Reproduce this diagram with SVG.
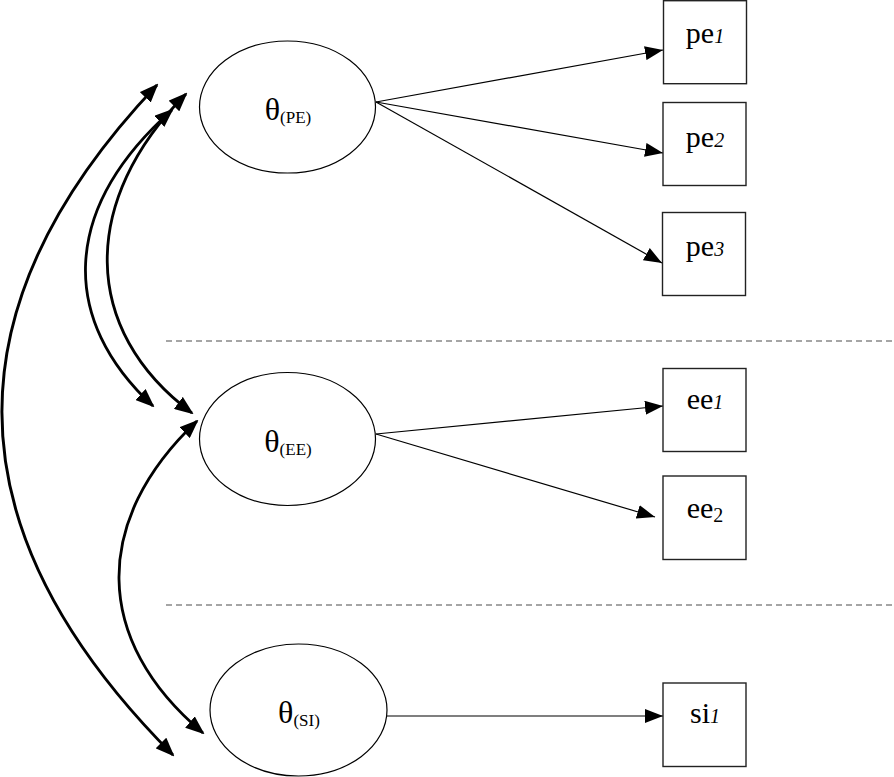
<svg xmlns="http://www.w3.org/2000/svg" width="894" height="777" viewBox="0 0 894 777">
<style>
.ell{fill:#fff;stroke:#000;stroke-width:1.2}
.box{fill:#fff;stroke:#222;stroke-width:1.4}
.thin{fill:none;stroke:#000;stroke-width:1.2;marker-end:url(#ah)}
.thick{fill:none;stroke:#000;stroke-width:2.8;marker-start:url(#bh);marker-end:url(#bh)}
.dash{stroke:#888;stroke-width:1.5;stroke-dasharray:6 4}
.th{font-size:32px}
.ts{font-size:17px}
.lb{font-size:30px}
.sb{font-size:20px;font-style:italic}
</style>
<defs>
<marker id="ah" markerUnits="userSpaceOnUse" markerWidth="18" markerHeight="14" refX="18" refY="7" orient="auto" viewBox="0 0 18 14">
<path d="M0,0 L18,7 L0,14 z" fill="#000"/>
</marker>
<marker id="bh" markerUnits="userSpaceOnUse" markerWidth="19" markerHeight="15" refX="17" refY="7.5" orient="auto-start-reverse" viewBox="0 0 19 15">
<path d="M0,0 L19,7.5 L0,15 z" fill="#000"/>
</marker>
</defs>
<rect width="894" height="777" fill="#fff"/>
<g id="separators">
<line class="dash" x1="166" y1="341" x2="894" y2="341"/>
<line class="dash" x1="166" y1="605" x2="894" y2="605"/>
</g>
<g id="connectors">
<line class="thin" x1="376" y1="102" x2="663" y2="50"/>
<line class="thin" x1="376" y1="102" x2="663" y2="153"/>
<line class="thin" x1="376" y1="102" x2="662" y2="263"/>
<line class="thin" x1="376" y1="434" x2="663" y2="406"/>
<line class="thin" x1="376" y1="434" x2="655" y2="517"/>
<line class="thin" x1="387" y1="716" x2="663" y2="716"/>
<path class="thick" d="M157,85 Q-161,420 173,755"/>
<path class="thick" d="M172,110 C60,210 60,320 153,406"/>
<path class="thick" d="M186,94 C80,200 80,330 192,413"/>
<path class="thick" d="M197,421 C92,520 92,640 203,733"/>
</g>
<g font-family="'Liberation Serif','Times New Roman',Times,serif" fill="#000">
<g id="theta_PE">
<ellipse class="ell" cx="287.5" cy="107" rx="88" ry="66"/>
<text x="288" y="120" text-anchor="middle" font-family="Liberation Serif, serif"><tspan class="th">θ</tspan><tspan class="ts" dy="3">(PE)</tspan></text>
</g>
<g id="theta_EE">
<ellipse class="ell" cx="287.5" cy="439" rx="88" ry="66.5"/>
<text x="288" y="452" text-anchor="middle" font-family="Liberation Serif, serif"><tspan class="th">θ</tspan><tspan class="ts" dy="3">(EE)</tspan></text>
</g>
<g id="theta_SI">
<ellipse class="ell" cx="298.5" cy="710" rx="88.5" ry="66"/>
<text x="299" y="723" text-anchor="middle" font-family="Liberation Serif, serif"><tspan class="th">θ</tspan><tspan class="ts" dy="3">(SI)</tspan></text>
</g>
<g id="pe1">
<rect class="box" x="663.5" y="0.7" width="83" height="83"/>
<text x="705" y="43" text-anchor="middle" font-family="Liberation Serif, serif"><tspan class="lb">pe</tspan><tspan class="sb">1</tspan></text>
</g>
<g id="pe2">
<rect class="box" x="663" y="102.5" width="83" height="83"/>
<text x="705" y="147" text-anchor="middle" font-family="Liberation Serif, serif"><tspan class="lb">pe</tspan><tspan class="sb">2</tspan></text>
</g>
<g id="pe3">
<rect class="box" x="662.5" y="212.5" width="83" height="83"/>
<text x="705" y="256" text-anchor="middle" font-family="Liberation Serif, serif"><tspan class="lb">pe</tspan><tspan class="sb">3</tspan></text>
</g>
<g id="ee1">
<rect class="box" x="663" y="368.5" width="83" height="83"/>
<text x="705" y="409" text-anchor="middle" font-family="Liberation Serif, serif"><tspan class="lb">ee</tspan><tspan class="sb">1</tspan></text>
</g>
<g id="ee2">
<rect class="box" x="663" y="476" width="83" height="83.5"/>
<text x="705" y="518" text-anchor="middle" font-family="Liberation Serif, serif"><tspan class="lb">ee</tspan><tspan font-size="20" dy="4">2</tspan></text>
</g>
<g id="si1">
<rect class="box" x="663" y="683" width="83" height="83.5"/>
<text x="705" y="723" text-anchor="middle" font-family="Liberation Serif, serif"><tspan class="lb">si</tspan><tspan class="sb">1</tspan></text>
</g>
</g>
</svg>
